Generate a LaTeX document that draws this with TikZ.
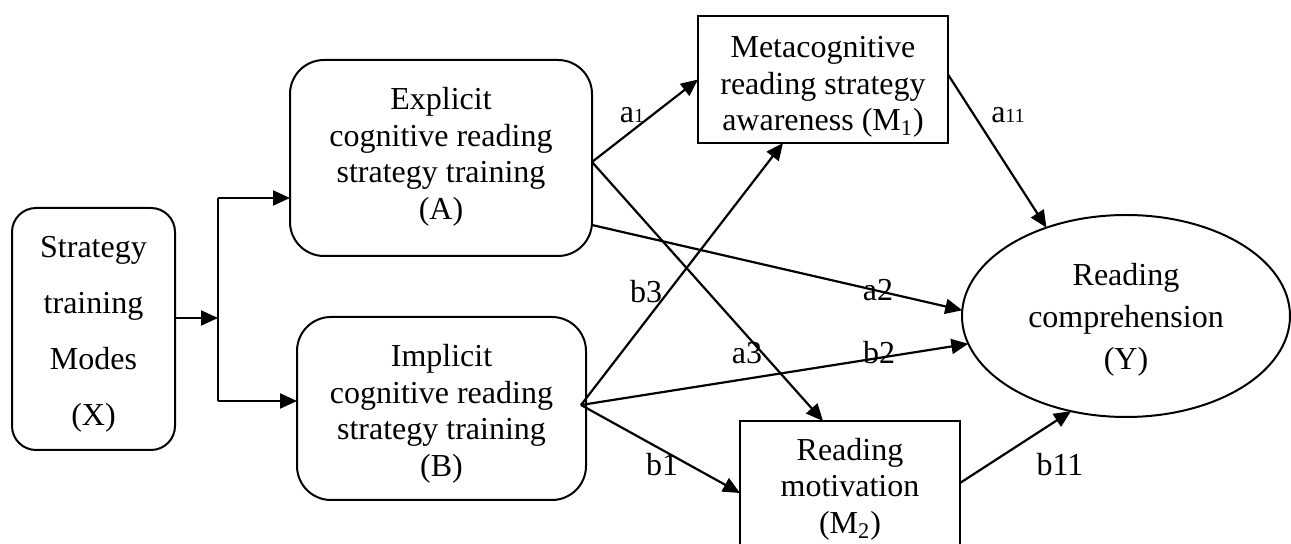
\documentclass[tikz,border=0pt]{standalone}
\usepackage{fontspec}
\setmainfont{Liberation Serif}
\usetikzlibrary{arrows.meta,calc,shapes.geometric}
\begin{document}
\begin{tikzpicture}[x=0.5pt,y=-0.5pt,
  every node/.style={inner sep=0pt, outer sep=0pt, align=center,
    font=\fontsize{16}{18.3}\selectfont},
  rbox/.style={draw, line width=1pt, rounded corners=17pt},
  sbox/.style={draw, line width=1pt},
  ebox/.style={draw, ellipse, line width=1pt},
  conn/.style={line width=1.1pt},
  arr/.style={line width=1.1pt, -{Triangle[length=8.5pt,width=7.5pt]}},
  lbl/.style={font=\fontsize{16}{18}\selectfont}]
\useasboundingbox (0,0) rectangle (1291,544);

% boxes
\node[rbox, rounded corners=12pt, minimum width=81.5pt, minimum height=121pt] (X) at (93.5,329) {};
\node[rbox, minimum width=151pt, minimum height=98pt] (A) at (441,158) {};
\node[rbox, minimum width=144.5pt, minimum height=91.5pt] (B) at (441.5,408.5) {};
\node[sbox, minimum width=125pt, minimum height=63.5pt] (M1) at (823,79.5) {};
\node[sbox, minimum width=110pt, minimum height=67pt] (M2) at (850,488) {};
\node[ebox, minimum width=164pt, minimum height=101pt] (Y) at (1126,316) {};

% box texts
\node[font=\fontsize{16}{28}\selectfont] (Xt) at (93.5,334)
  {Strategy\\training\\Modes\\(X)};
\node (At) at (441,157)
  {Explicit\\cognitive reading\\strategy training\\(A)};
\node (Bt) at (441.5,414)
  {Implicit\\cognitive reading\\strategy training\\(B)};
\node (M1t) at (823,87)
  {Metacognitive\\reading strategy\\awareness (M\textsubscript{1})};
\node (M2t) at (850,489)
  {Reading\\motivation\\(M\textsubscript{2})};
\node[font=\fontsize{16}{21}\selectfont] (Yt) at (1126,320)
  {Reading\\comprehension\\(Y)};

% fork
\coordinate (J) at (218,318);
\coordinate (Jt) at (218,198);
\coordinate (Jb) at (218,401);
\draw[arr] (X.east |- J) -- (J);
\draw[conn] (Jt) -- (Jb);
\draw[arr] (Jt) -- (Jt -| A.west);
\draw[arr] (Jb) -- (Jb -| B.west);

% paths from A
\coordinate (As) at (592,162);
\coordinate (As2) at (592,225);
\draw[arr] (As) -- (M1.west);
\draw[arr] (As) -- ($(M2.north)+(-27,0)$);
\draw[arr] (As2) -- (Y.178);

% paths from B
\coordinate (Bs) at (581,405);
\draw[arr] (Bs) -- ($(M1.south)+(-40,0)$);
\draw[arr] (Bs) -- (Y.190);
\draw[arr] (Bs) -- ($(M2.west)+(0,5)$);

% to Y
\draw[arr] ($(M1.east)+(0,-5)$) -- (Y.132);
\draw[arr] ($(M2.east)+(0,-5)$) -- (Y.240);

% labels
\node[lbl] (la1) at (632,115) {a{\fontsize{10}{10}\selectfont 1}};
\node[lbl] (la11) at (1008,115) {a{\fontsize{10}{10}\selectfont 11}};
\node[lbl] (lb3) at (646,292) {b3};
\node[lbl] (la2) at (878,290) {a2};
\node[lbl] (la3) at (747,353) {a3};
\node[lbl] (lb2) at (879,353) {b2};
\node[lbl] (lb1) at (662,465) {b1};
\node[lbl] (lb11) at (1060,465) {b11};
\end{tikzpicture}
\end{document}
